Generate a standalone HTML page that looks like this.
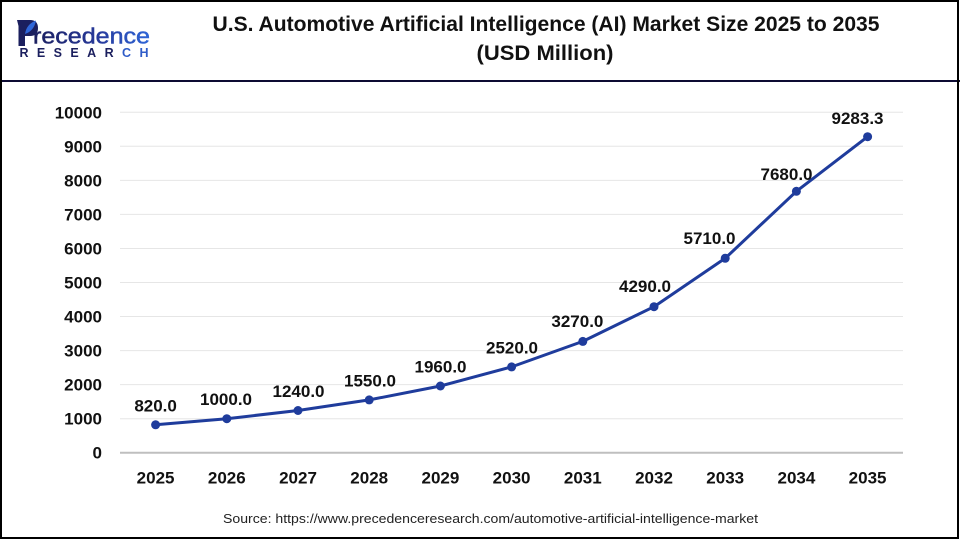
<!DOCTYPE html>
<html>
<head>
<meta charset="utf-8">
<style>
  html, body { margin:0; padding:0; background:#fff; }
  svg { display:block; }
  text { font-family: "Liberation Sans", Arial, sans-serif; }
</style>
</head>
<body>
<svg width="960" height="540" viewBox="0 0 960 540" xmlns="http://www.w3.org/2000/svg">
  <defs>
    <linearGradient id="lg" x1="0" y1="0" x2="1" y2="0">
      <stop offset="0" stop-color="#1b1f5e"/>
      <stop offset="0.55" stop-color="#27399a"/>
      <stop offset="1" stop-color="#2f66d8"/>
    </linearGradient>
  </defs>
  <rect x="0" y="0" width="960" height="540" fill="#fff"/>

  <!-- Logo -->
  <g>
    <path d="M17,20 L30,20 Q38,20 38,28 Q38,36 30,36 L25,36 L25,46 L18.5,46 L18.5,26 Z" fill="#1b1f5e"/>
    <path d="M25,34 Q26.5,24 36,20.5 Q34,31 25,34 Z" fill="#2f66d8"/>
    <text x="33" y="43.5" font-size="22" fill="url(#lg)" stroke="url(#lg)" stroke-width="0.5" textLength="117" lengthAdjust="spacingAndGlyphs">recedence</text>
    <text x="19.5" y="57" font-size="12.5" font-weight="bold" fill="#1b1f5e" textLength="129" lengthAdjust="spacing">RESEAR<tspan fill="#2f5cc8">CH</tspan></text>
  </g>

  <!-- Title -->
  <text x="546" y="31" font-size="21" font-weight="bold" fill="#111" text-anchor="middle" textLength="667" lengthAdjust="spacingAndGlyphs">U.S. Automotive Artificial Intelligence (AI) Market Size 2025 to 2035</text>
  <text x="545" y="60" font-size="21" font-weight="bold" fill="#111" text-anchor="middle" textLength="137" lengthAdjust="spacingAndGlyphs">(USD Million)</text>

  <!-- header separator -->
  <rect x="0" y="80" width="960" height="2" fill="#0d0b33"/>

  <!-- Gridlines -->
  <g stroke="#e6e6e6" stroke-width="1">
    <line x1="120" y1="112.3" x2="903" y2="112.3"/>
    <line x1="120" y1="146.3" x2="903" y2="146.3"/>
    <line x1="120" y1="180.4" x2="903" y2="180.4"/>
    <line x1="120" y1="214.4" x2="903" y2="214.4"/>
    <line x1="120" y1="248.5" x2="903" y2="248.5"/>
    <line x1="120" y1="282.5" x2="903" y2="282.5"/>
    <line x1="120" y1="316.5" x2="903" y2="316.5"/>
    <line x1="120" y1="350.6" x2="903" y2="350.6"/>
    <line x1="120" y1="384.6" x2="903" y2="384.6"/>
    <line x1="120" y1="418.7" x2="903" y2="418.7"/>
  </g>
  <line x1="120" y1="452.7" x2="903" y2="452.7" stroke="#bfbfbf" stroke-width="2"/>

  <!-- Y tick labels -->
  <g font-size="17" font-weight="bold" fill="#111" text-anchor="end">
    <text x="102" y="118.3">10000</text>
    <text x="102" y="152.3">9000</text>
    <text x="102" y="186.4">8000</text>
    <text x="102" y="220.4">7000</text>
    <text x="102" y="254.5">6000</text>
    <text x="102" y="288.5">5000</text>
    <text x="102" y="322.5">4000</text>
    <text x="102" y="356.6">3000</text>
    <text x="102" y="390.6">2000</text>
    <text x="102" y="424.7">1000</text>
    <text x="102" y="458.7">0</text>
  </g>

  <!-- X tick labels -->
  <g font-size="17" font-weight="bold" fill="#111" text-anchor="middle">
    <text x="155.6" y="483.5">2025</text>
    <text x="226.8" y="483.5">2026</text>
    <text x="298.0" y="483.5">2027</text>
    <text x="369.2" y="483.5">2028</text>
    <text x="440.4" y="483.5">2029</text>
    <text x="511.6" y="483.5">2030</text>
    <text x="582.8" y="483.5">2031</text>
    <text x="654.0" y="483.5">2032</text>
    <text x="725.2" y="483.5">2033</text>
    <text x="796.4" y="483.5">2034</text>
    <text x="867.6" y="483.5">2035</text>
  </g>

  <!-- Series -->
  <polyline fill="none" stroke="#1f3c9c" stroke-width="3" stroke-linejoin="round"
    points="155.6,424.8 226.8,418.7 298.0,410.5 369.2,399.9 440.4,386.0 511.6,366.9 582.8,341.4 654.0,306.7 725.2,258.3 796.4,191.3 867.6,136.7"/>
  <g fill="#1f3c9c">
    <circle cx="155.6" cy="424.8" r="4.5"/>
    <circle cx="226.8" cy="418.7" r="4.5"/>
    <circle cx="298.0" cy="410.5" r="4.5"/>
    <circle cx="369.2" cy="399.9" r="4.5"/>
    <circle cx="440.4" cy="386.0" r="4.5"/>
    <circle cx="511.6" cy="366.9" r="4.5"/>
    <circle cx="582.8" cy="341.4" r="4.5"/>
    <circle cx="654.0" cy="306.7" r="4.5"/>
    <circle cx="725.2" cy="258.3" r="4.5"/>
    <circle cx="796.4" cy="191.3" r="4.5"/>
    <circle cx="867.6" cy="136.7" r="4.5"/>
  </g>

  <!-- Data labels -->
  <g font-size="17" font-weight="bold" fill="#111" text-anchor="middle">
    <text x="155.6" y="411.5">820.0</text>
    <text x="226.0" y="405.2">1000.0</text>
    <text x="298.5" y="397">1240.0</text>
    <text x="370" y="386.5">1550.0</text>
    <text x="440.5" y="372.5">1960.0</text>
    <text x="512" y="353.5">2520.0</text>
    <text x="577.4" y="327">3270.0</text>
    <text x="645" y="292">4290.0</text>
    <text x="709.5" y="244">5710.0</text>
    <text x="786.5" y="180">7680.0</text>
    <text x="857.5" y="124">9283.3</text>
  </g>

  <!-- Source -->
  <text x="490.5" y="522.8" font-size="13" fill="#222" text-anchor="middle" textLength="535" lengthAdjust="spacingAndGlyphs">Source: https://www.precedenceresearch.com/automotive-artificial-intelligence-market</text>

  <!-- Frame -->
  <rect x="1" y="1" width="957" height="537" fill="none" stroke="#000" stroke-width="2"/>
</svg>
</body>
</html>
